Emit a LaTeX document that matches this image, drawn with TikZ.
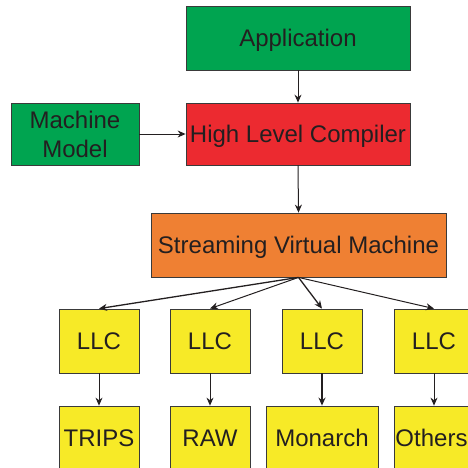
\documentclass[tikz,border=0pt]{standalone}
\usepackage{fontspec}
\setmainfont{Liberation Sans}
\usetikzlibrary{arrows.meta}
\definecolor{boxgreen}{HTML}{00A450}
\definecolor{boxred}{HTML}{EC2A30}
\definecolor{boxorange}{HTML}{EF8033}
\definecolor{boxyellow}{HTML}{F7EA27}
\definecolor{txt}{HTML}{231F20}
\definecolor{edge}{HTML}{3A3A3A}
\begin{document}
\begin{tikzpicture}[x=1pt,y=-1pt,
  blk/.style={draw=edge,line width=0.8pt,text=txt,inner sep=0pt,align=center,
    font=\fontsize{24}{29}\selectfont},
  one/.style={blk,text height=17.2pt,text depth=0pt},
  arr/.style={-{Stealth[length=8pt,width=7pt]},line width=1pt,draw=txt}]
\useasboundingbox (0,0) rectangle (468,468);
\clip (0,0) rectangle (468,468);
\node[one,fill=boxgreen,minimum width=224pt,minimum height=64pt] (app) at (298,38) {Application};
\node[one,fill=boxred,minimum width=224pt,minimum height=62pt] (hlc) at (298,134) {High Level Compiler};
\node[blk,fill=boxgreen,minimum width=128pt,minimum height=62pt] (mm) at (75,134) {Machine\\Model};
\node[one,fill=boxorange,minimum width=295pt,minimum height=64pt] (svm) at (298.5,245) {Streaming Virtual Machine};
\node[one,fill=boxyellow,minimum width=80pt,minimum height=64pt] (l1) at (99,341) {LLC};
\node[one,fill=boxyellow,minimum width=80pt,minimum height=64pt] (l2) at (210,341) {LLC};
\node[one,fill=boxyellow,minimum width=80pt,minimum height=64pt] (l3) at (322,341) {LLC};
\node[one,fill=boxyellow,minimum width=80pt,minimum height=64pt] (l4) at (434,341) {LLC};
\node[one,fill=boxyellow,minimum width=80pt,minimum height=64pt] (b1) at (99,438) {TRIPS};
\node[one,fill=boxyellow,minimum width=80pt,minimum height=64pt] (b2) at (210,438) {RAW};
\node[one,fill=boxyellow,minimum width=112pt,minimum height=64pt] (b3) at (322,438) {Monarch};
\node[one,fill=boxyellow,minimum width=80pt,minimum height=64pt] (b4) at (434,438) {\hspace*{-5pt}Others};
\draw[arr] (app.south) -- (hlc.north);
\draw[arr] (mm.east) -- (hlc.west);
\draw[arr] (hlc.south) -- (svm.north);
\draw[arr,line width=1.3pt] (svm.south) -- (l1.north);
\draw[arr] (svm.south) -- (l2.north);
\draw[arr,line width=1.3pt] (svm.south) -- (l3.north);
\draw[arr] (svm.south) -- (l4.north);
\draw[arr,line width=0.8pt] (l1.south) -- (b1.north);
\draw[arr,line width=0.8pt] (l2.south) -- (b2.north);
\draw[arr,line width=1.3pt] (l3.south) -- (b3.north);
\draw[arr,line width=0.8pt] (l4.south) -- (b4.north);
\end{tikzpicture}
\end{document}
